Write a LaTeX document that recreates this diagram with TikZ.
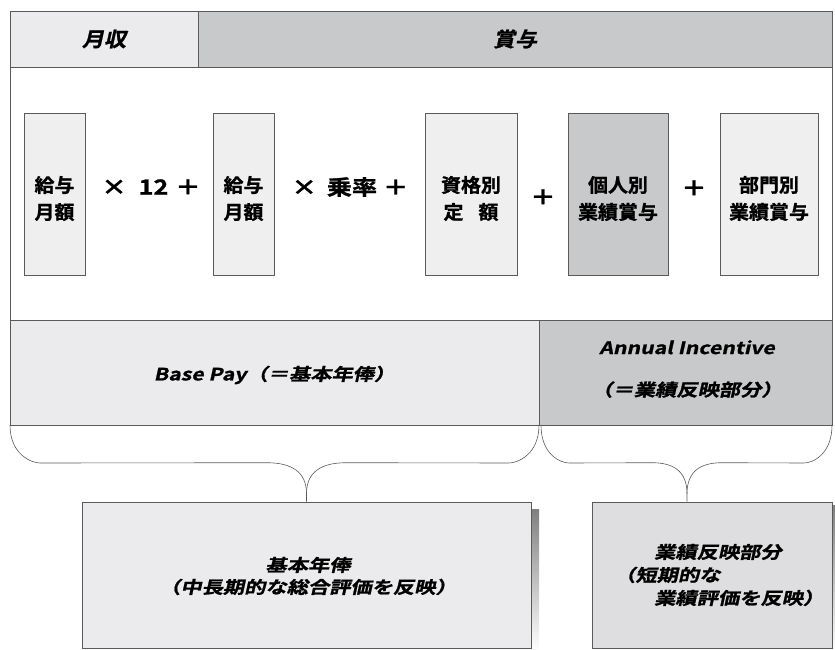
\documentclass[tikz,border=0pt]{standalone}
\usepackage{fontspec}
\usetikzlibrary{calc}
\newfontfamily\jp{Noto Sans CJK JP Bold}[FakeBold=1.2, FakeStretch=1.05]
\newfontfamily\jpop{Noto Sans CJK JP Bold}[FakeBold=1.2, FakeStretch=1.2]
\newfontfamily\jpi{Noto Sans CJK JP Bold}[FakeSlant=0.22, FakeBold=1.2, FakeStretch=1.25]
\newfontfamily\jph{Noto Sans CJK JP Bold}[FakeSlant=0.22, FakeBold=1.2, FakeStretch=1.1]
\definecolor{pale}{HTML}{EBEBED}
\definecolor{mid}{HTML}{C8C9CB}
\definecolor{boxpale}{HTML}{EFEFEF}
\definecolor{resR}{HTML}{DEDEE0}
\definecolor{edge}{HTML}{5A5A5A}
\definecolor{shade}{HTML}{262626}
\tikzset{
  cell/.style={draw=edge, line width=0.8pt, inner sep=0pt, outer sep=0pt},
  hdr/.style={cell, minimum height=56pt, font=\jph\fontsize{20}{22}\selectfont},
  item/.style={draw=edge, line width=0.6pt, inner sep=0pt, minimum height=162pt},
  itemtext/.style={inner sep=0pt, align=center, font=\jp\fontsize{19}{27}\selectfont},
  op/.style={inner sep=0pt, font=\jpop\fontsize{21}{24}\selectfont},
  band/.style={cell, minimum height=105pt},
  bandtext/.style={inner sep=0pt, align=center, font=\jpi\fontsize{17}{42}\selectfont},
  res/.style={draw=edge, line width=0.6pt, inner sep=0pt, minimum height=146pt},
  restext/.style={inner sep=0pt, font=\jpi\fontsize{17}{22}\selectfont},
  bracel/.style={draw=edge, line width=0.6pt}
}
\begin{document}
\begin{tikzpicture}[x=1pt,y=-1pt]
\useasboundingbox (0,0) rectangle (835,650);
% header
\node[hdr, fill=pale, minimum width=188pt] (mon) at (104,39) {月収};
\node[hdr, fill=mid, minimum width=634pt] (bon) at (515,39) {賞与};
% main box
\node[cell, minimum width=822pt, minimum height=253pt] (main) at (421,193.5) {};
% items
\node[item, fill=boxpale, minimum width=61pt] (b1) at (54.5,194) {};
\node[itemtext] (b1t) at (54.5,198.5) {給与\\月額};
\node[op] (o1) at (151,187) {×\hspace{12pt}12\hspace{7pt}＋};
\node[item, fill=boxpale, minimum width=61pt] (b2) at (243.5,194) {};
\node[itemtext] (b2t) at (243.5,198.5) {給与\\月額};
\node[op] (o2) at (350,187) {×\hspace{10pt}乗率\hspace{6pt}＋};
\node[item, fill=boxpale, minimum width=92pt] (b3) at (471,194) {};
\node[itemtext] (b3t) at (471,198.5) {資格別\\定\hspace{15pt}額};
\node[op] (o3) at (543,197) {＋};
\node[item, fill=mid, minimum width=100pt] (b4) at (618,194) {};
\node[itemtext] (b4t) at (618,198.5) {個人別\\業績賞与};
\node[op] (o4) at (694,188) {＋};
\node[item, fill=boxpale, minimum width=98pt] (b5) at (769,194) {};
\node[itemtext] (b5t) at (769,198.5) {部門別\\業績賞与};
% bands
\node[band, fill=pale, minimum width=529pt] (base) at (274.5,372.5) {};
\node[bandtext] (baset) at (274.5,375) {Base Pay（＝基本年俸）};
\node[band, fill=mid, minimum width=293pt] (ai) at (685.5,372.5) {};
\node[bandtext] (ait) at (687,369) {Annual Incentive\\（＝業績反映部分）};
% result boxes
\fill[shade] (89,509) rectangle (539,651);
\node[res, fill=pale, minimum width=449pt] (rb) at (306.5,575) {};
\node[restext, align=center] (rbt) at (308,576) {基本年俸\\（中長期的な総合評価を反映）};
\fill[shade] (594,505) rectangle (835,651);
\node[res, fill=resR, minimum width=240pt] (ri) at (712,575) {};
\node[restext, align=left, anchor=west, font=\jpi\fontsize{17}{23}\selectfont] (rit) at (614,575)
  {\hspace{40pt}業績反映部分\\（短期的な\\\hspace{40pt}業績評価を反映）};
% braces
\coordinate (lt) at (rb.north);
\coordinate (rt) at ($(ri.north)+(-25,0)$);
\draw[bracel] (base.south west) .. controls +(0,30) and +(-8,0) .. ++(30,38)
  -- ($(lt)+(-40,-39)$) .. controls +(25,0) and +(0,-22) .. ($(lt)+(0,-8)$) -- (lt);
\draw[bracel] (base.south east) .. controls +(0,30) and +(8,0) .. ++(-30,38)
  -- ($(lt)+(40,-39)$) .. controls +(-25,0) and +(0,-22) .. ($(lt)+(0,-8)$);
\draw[bracel] ($(ai.south west)+(2,0)$) .. controls +(0,30) and +(-8,0) .. ++(28,38)
  -- ($(rt)+(-35,-39)$) .. controls +(22,0) and +(0,-22) .. ($(rt)+(0,-8)$) -- (rt);
\draw[bracel] (ai.south east) .. controls +(0,30) and +(8,0) .. ++(-28,38)
  -- ($(rt)+(35,-39)$) .. controls +(-22,0) and +(0,-22) .. ($(rt)+(0,-8)$);
\end{tikzpicture}
\end{document}
